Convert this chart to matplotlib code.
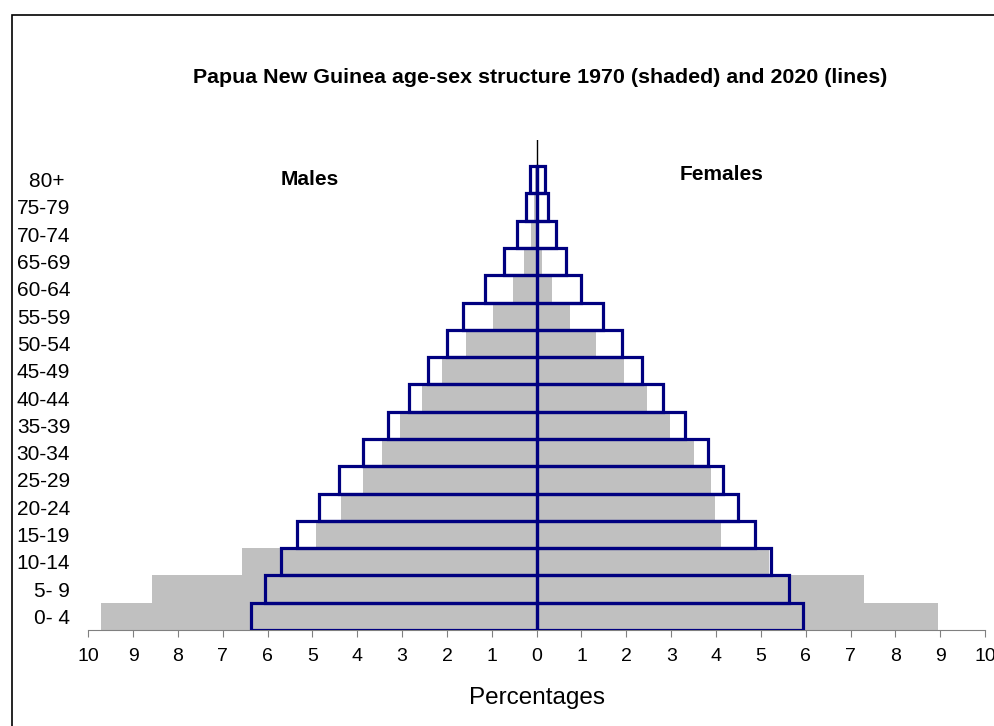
import numpy as np
import matplotlib
matplotlib.use('Agg')
import matplotlib.pyplot as plt
from matplotlib.patches import Rectangle

plt.rcParams['font.family'] = ['Liberation Sans', 'DejaVu Sans']

# age groups, youngest first
age_groups = ['0- 4', '5- 9', '10-14', '15-19', '20-24', '25-29', '30-34', '35-39',
              '40-44', '45-49', '50-54', '55-59', '60-64', '65-69', '70-74', '75-79', '80+ ']

# 1970 (shaded)
males_1970 = [9.72, 8.58, 6.58, 4.93, 4.37, 3.88, 3.46, 3.04, 2.55, 2.10, 1.57, 0.98, 0.53, 0.29, 0.13, 0.06, 0.03]
females_1970 = [8.94, 7.31, 5.18, 4.11, 3.98, 3.88, 3.50, 2.98, 2.47, 1.94, 1.33, 0.74, 0.35, 0.13, 0.05, 0.03, 0.02]

# 2020 (lines)
males_2020 = [6.36, 6.06, 5.71, 5.34, 4.86, 4.40, 3.88, 3.31, 2.84, 2.42, 2.01, 1.64, 1.15, 0.73, 0.44, 0.23, 0.15]
females_2020 = [5.94, 5.62, 5.23, 4.88, 4.49, 4.16, 3.83, 3.31, 2.82, 2.36, 1.90, 1.47, 0.99, 0.66, 0.43, 0.26, 0.18]

x_ticks = np.arange(-10, 11, 1)
x_ticklabels = [str(abs(v)) for v in x_ticks]

fig = plt.figure(figsize=(9.95, 7.26), dpi=100)
ax = fig.add_axes([0.0887, 0.1322, 0.9013, 0.6748])

y = np.arange(len(age_groups))
gray = '#c0c0c0'
navy = '#000080'

# shaded 1970
ax.barh(y, -np.array(males_1970), height=1.0, color=gray, linewidth=0, zorder=1)
ax.barh(y, females_1970, height=1.0, color=gray, linewidth=0, zorder=1)

# outlined 2020
ax.barh(y, -np.array(males_2020), height=1.0, fill=False, edgecolor=navy, linewidth=2.3, zorder=3)
ax.barh(y, females_2020, height=1.0, fill=False, edgecolor=navy, linewidth=2.3, zorder=3)

ax.axvline(0, color='black', linewidth=1.0, zorder=2)

ax.set_xlim(-10, 10)
ax.set_ylim(-0.5, 17.45)
ax.set_xticks(x_ticks)
ax.set_xticklabels(x_ticklabels, fontsize=14)
ax.set_yticks(y)
ax.set_yticklabels(age_groups, fontsize=15)
ax.tick_params(axis='y', length=0, pad=13)
ax.tick_params(axis='x', direction='out', length=5, color='#808080', pad=8)

for s in ['left', 'right', 'top']:
    ax.spines[s].set_visible(False)
ax.spines['bottom'].set_color('#808080')

ax.set_xlabel('Percentages', fontsize=17.5, labelpad=16)

ax.text(-5.07, 16.0, 'Males', fontsize=15, fontweight='bold', ha='center', va='center')
ax.text(4.13, 16.2, 'Females', fontsize=15, fontweight='bold', ha='center', va='center')

fig.text(0.543, 0.8926, 'Papua New Guinea age-sex structure 1970 (shaded) and 2020 (lines)',
         fontsize=15.4, fontweight='bold', ha='center', va='center')

# outer frame (runs off the right and bottom edges)
fig.add_artist(Rectangle((12 / 995, -0.1), 1.2, 1.1 - 15 / 726, transform=fig.transFigure,
                         fill=False, edgecolor='black', linewidth=1.2))

fig.savefig('out.png', dpi=100)
